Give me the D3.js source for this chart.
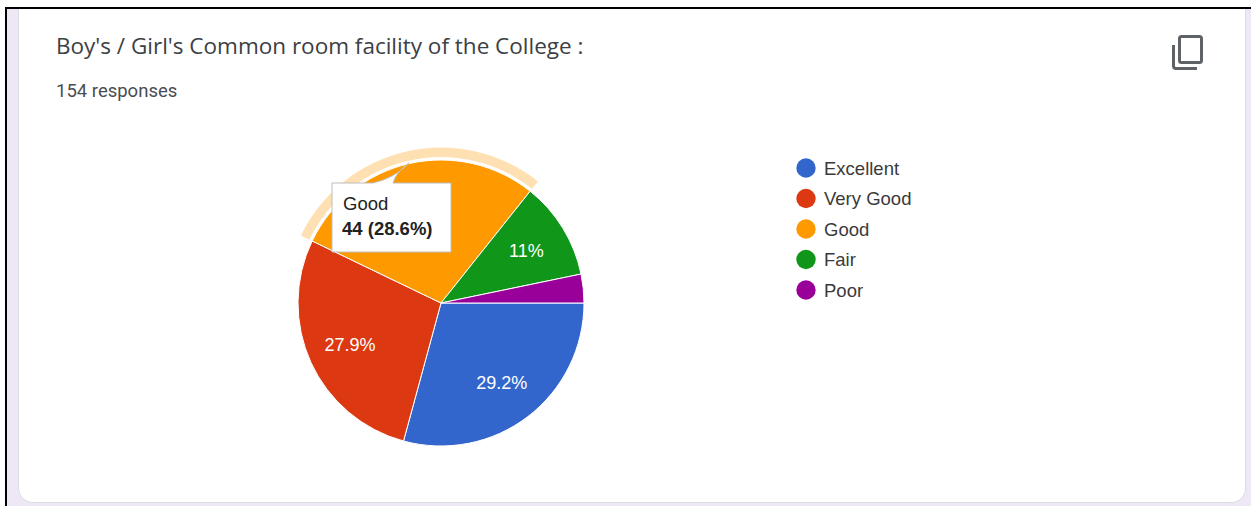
<!DOCTYPE html>
<html>
<head>
<meta charset="utf-8">
<script src="https://cdn.jsdelivr.net/npm/d3@7"></script>
<style>
  html, body { margin: 0; padding: 0; background: #fff; overflow: hidden; }
  svg { display: block; }
</style>
</head>
<body>
<div id="chart"></div>
<script>
// chart values
const categories = ["Excellent", "Very Good", "Good", "Fair", "Poor"];
const counts = [45, 43, 44, 17, 5];
const percent_labels = ["29.2%", "27.9%", "", "11%", ""];
const colors = ["#3366cc", "#dc3912", "#ff9900", "#109618", "#990099"];
const title_text = "Boy's / Girl's Common room facility of the College :";
const responses_text = "154 responses";
const tooltip_lines = ["Good", "44 (28.6%)"];
const highlighted = 2;

// layout
const WIDTH = 1251;
const HEIGHT = 506;
const CENTER_X = 441;
const CENTER_Y = 303;
const RADIUS = 143;

const svg = d3.select("#chart")
    .append("svg")
    .attr("width", WIDTH)
    .attr("height", HEIGHT);

// window frame and page background
svg.append("rect")
    .attr("x", 5).attr("y", 7)
    .attr("width", WIDTH - 5).attr("height", HEIGHT - 7)
    .attr("fill", "#000");

svg.append("rect")
    .attr("x", 7).attr("y", 9)
    .attr("width", WIDTH - 7).attr("height", HEIGHT - 9)
    .attr("fill", "#ede7f6");

// card
svg.append("path")
    .attr("fill", "#fff")
    .attr("stroke", "#dadce0")
    .attr("stroke-width", 1)
    .attr("d", "M18.5,9 V488 A14,14 0 0 0 32.5,502.5 H1231 A14,14 0 0 0 1245.5,488 V9");

svg.append("text")
    .attr("x", 56).attr("y", 54)
    .attr("font-family", "Open Sans")
    .attr("font-size", 22.5)
    .attr("fill", "#3c4043")
    .text(title_text);

svg.append("text")
    .attr("x", 56).attr("y", 97)
    .attr("font-family", "Roboto")
    .attr("font-size", 18.5)
    .attr("fill", "#4a4d51")
    .text(responses_text);

// copy icon
const icon = svg.append("g")
    .attr("fill", "none")
    .attr("stroke", "#5f6368")
    .attr("stroke-width", 3);

icon.append("rect")
    .attr("x", 1179.5).attr("y", 36.5)
    .attr("width", 22).attr("height", 26)
    .attr("rx", 2);

icon.append("path")
    .attr("d", "M1173.5,45 V66 Q1173.5,68.5 1176,68.5 H1197");

// pie
const pie = d3.pie()
    .sort(null)
    .startAngle(Math.PI / 2)
    .endAngle(Math.PI / 2 + 2 * Math.PI);

const arcs = pie(counts);

const arc = d3.arc()
    .innerRadius(0)
    .outerRadius(RADIUS);

const ring = d3.arc()
    .innerRadius(RADIUS + 3)
    .outerRadius(RADIUS + 12.5);

const label_arc = d3.arc()
    .innerRadius(RADIUS * 0.7)
    .outerRadius(RADIUS * 0.7);

const pie_g = svg.append("g")
    .attr("transform", `translate(${CENTER_X}, ${CENTER_Y})`);

pie_g.selectAll("path.slice")
    .data(arcs)
    .enter()
    .append("path")
    .attr("class", "slice")
    .attr("fill", (d, i) => colors[i])
    .attr("stroke", "#fff")
    .attr("stroke-width", 1)
    .attr("d", arc);

pie_g.append("path")
    .attr("fill", colors[highlighted])
    .attr("fill-opacity", 0.3)
    .attr("d", ring(arcs[highlighted]));

pie_g.selectAll("text.pct")
    .data(arcs)
    .enter()
    .append("text")
    .attr("class", "pct")
    .attr("transform", d => `translate(${label_arc.centroid(d)})`)
    .attr("text-anchor", "middle")
    .attr("dy", "0.36em")
    .attr("font-family", "Liberation Sans")
    .attr("font-size", 18)
    .attr("fill", "#fff")
    .text((d, i) => percent_labels[i]);

// legend
const legend_y = d3.scalePoint()
    .domain(categories)
    .range([168, 290]);

const legend = svg.selectAll("g.legend")
    .data(categories)
    .enter()
    .append("g")
    .attr("class", "legend")
    .attr("transform", d => `translate(806, ${legend_y(d)})`);

legend.append("circle")
    .attr("r", 9.7)
    .attr("fill", (d, i) => colors[i]);

legend.append("text")
    .attr("x", 18)
    .attr("dy", "0.36em")
    .attr("font-family", "Liberation Sans")
    .attr("font-size", 18.5)
    .attr("fill", "#3a3a3a")
    .text(d => d);

// tooltip
const tooltip = svg.append("g");

tooltip.append("path")
    .attr("fill", "#fff")
    .attr("stroke", "#bdbdbd")
    .attr("stroke-width", 1)
    .attr("d", "M332,183 H373 Q395,178 409,163 Q396,172 393,183 H451 V252 H332 Z");

tooltip.append("text")
    .attr("x", 343).attr("y", 210)
    .attr("font-family", "Liberation Sans")
    .attr("font-size", 18.5)
    .attr("fill", "#222")
    .text(tooltip_lines[0]);

tooltip.append("text")
    .attr("x", 342).attr("y", 235)
    .attr("font-family", "Liberation Sans")
    .attr("font-size", 18.5)
    .attr("font-weight", "bold")
    .attr("fill", "#222")
    .text(tooltip_lines[1]);
</script>
</body>
</html>
